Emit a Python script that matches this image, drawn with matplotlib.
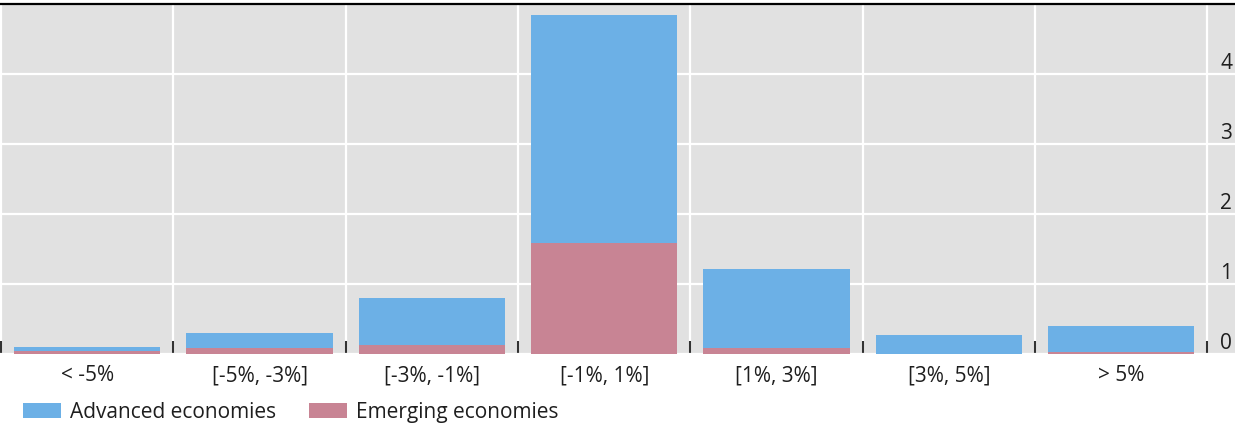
import matplotlib
matplotlib.use("Agg")
import matplotlib.pyplot as plt
import numpy as np

categories = ["< -5%", "[-5%, -3%]", "[-3%, -1%]", "[-1%, 1%]", "[1%, 3%]", "[3%, 5%]", "> 5%"]
emerging = [0.03, 0.08, 0.125, 1.58, 0.08, 0.0, 0.02]
advanced = [0.057, 0.22, 0.665, 3.26, 1.13, 0.27, 0.38]
yticks = [0, 1, 2, 3, 4]
series_names = ["Advanced economies", "Emerging economies"]

plt.rcParams['font.family'] = ['Open Sans', 'DejaVu Sans']

BLUE = "#6CB0E6"
PINK = "#C88494"
BG = "#E1E1E1"
TXT = "#1E1E1E"

fig = plt.figure(figsize=(12.35, 4.23), dpi=100)
ax = fig.add_axes([0.0, 0.1643, 1.0, 0.8274])
ax.set_facecolor(BG)

x = np.arange(len(categories))
b_em = ax.bar(x, emerging, width=0.85, color=PINK, zorder=3, label=series_names[1])
b_ad = ax.bar(x, advanced, width=0.85, bottom=emerging, color=BLUE, zorder=3, label=series_names[0])

ax.set_xlim(-0.506, 6.66)
ax.set_ylim(0, 5)

ax.set_xticks(x)
ax.set_xticklabels(categories, fontsize=15, color=TXT)
ax.set_xticks(np.arange(-0.5, len(categories), 1.0), minor=True)
ax.tick_params(axis='x', which='major', length=0, pad=8.5)
ax.tick_params(axis='x', which='minor', length=9.5, width=1.5, direction='in', color="#333333")

ax.yaxis.tick_right()
ax.set_yticks(yticks)
ax.set_yticklabels([str(v) for v in yticks], fontsize=15, color=TXT)
ax.tick_params(axis='y', which='major', length=0, pad=-10.5)
for t in ax.get_yticklabels():
    t.set_verticalalignment('bottom')

ax.grid(True, axis='y', which='major', color='white', linewidth=1.6, zorder=1)
ax.grid(True, axis='x', which='minor', color='white', linewidth=1.6, zorder=1)
ax.grid(False, axis='x', which='major')
ax.set_axisbelow(True)

for s in ['left', 'right', 'bottom']:
    ax.spines[s].set_visible(False)
ax.spines['top'].set_color('black')
ax.spines['top'].set_linewidth(1.6)

leg = fig.legend(handles=[b_ad, b_em], labels=series_names, loc='lower left',
                 bbox_to_anchor=(0.012, -0.02), ncol=2, frameon=False, fontsize=15,
                 handlelength=1.8, handleheight=0.72, handletextpad=0.45,
                 columnspacing=1.6, borderaxespad=0.0)
for t in leg.get_texts():
    t.set_color(TXT)

fig.savefig("out.png", dpi=100, facecolor="white")
